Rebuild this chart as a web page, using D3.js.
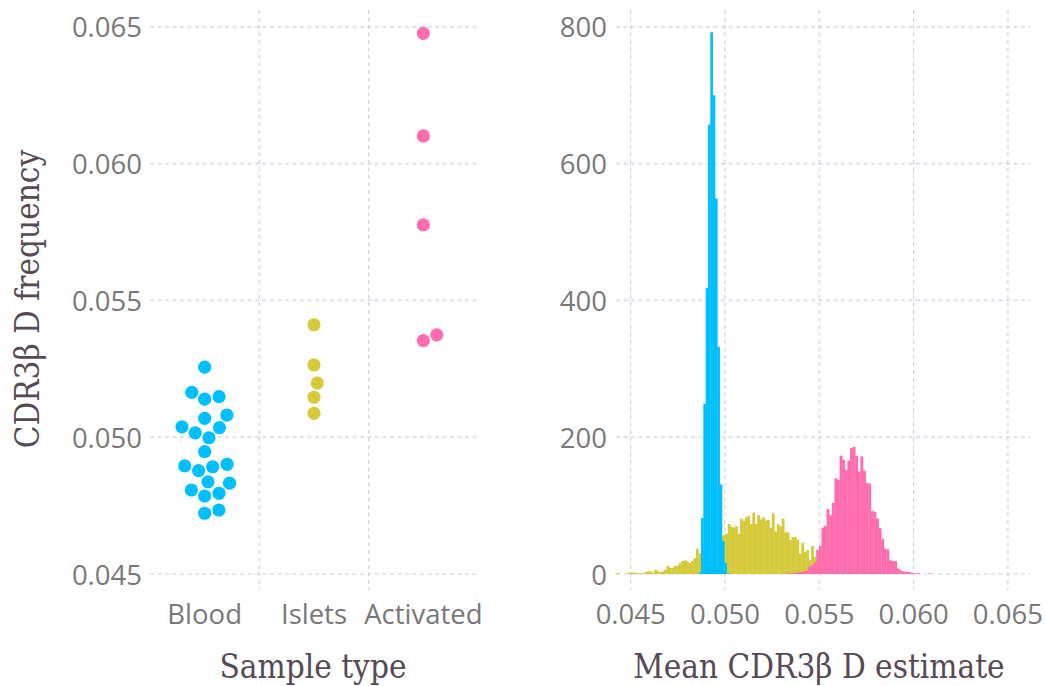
<!DOCTYPE html>
<html>
<head>
<meta charset="utf-8">
<script src="https://cdn.jsdelivr.net/npm/d3@7"></script>
<style>
  html, body { margin: 0; padding: 0; background: #ffffff; }
  svg { display: block; }
</style>
</head>
<body>
<svg id="chart" width="1046" height="686"></svg>
<script>
// ---- data -------------------------------------------------------------
const sampleTypes = ["Blood", "Islets", "Activated"];
const colors = ["#00BFFF", "#D4CA3A", "#FF6DAE"];

// Per-sample CDR3β D frequency
const bloodFreq = [0.05256, 0.05164, 0.05148, 0.05139, 0.05081, 0.05069, 0.05038, 0.05035,
                   0.05016, 0.04998, 0.04947, 0.04901, 0.04895, 0.04892, 0.04878, 0.04837,
                   0.04832, 0.04807, 0.04795, 0.04785, 0.04734, 0.04722];
const isletsFreq = [0.05411, 0.05264, 0.05198, 0.05146, 0.05087];
const activatedFreq = [0.06476, 0.06101, 0.05776, 0.05374, 0.05353];

// Posterior draws of the mean, binned: first bin start, bin width, counts
const bloodBinStart = 0.048604, bloodBinWidth = 0.0001236;
const bloodCounts = [2, 82, 249, 418, 657, 792, 700, 549, 332, 131, 48, 16, 1];

const isletsBinStart = 0.044168, isletsBinWidth = 0.00013;
const isletsCounts = [1,1,0,0,0,2,2,2,2,1,1,1,3,4,4,2,6,4,3,4,6,12,9,9,12,12,16,19,20,18,
                      16,19,23,37,30,32,35,38,40,42,45,48,50,55,57,59,73,69,68,70,59,81,78,83,85,
                      73,90,73,86,80,83,78,79,68,89,62,73,70,81,61,61,50,54,54,50,30,46,32,35,20,
                      41,25,12,8,4,2];

const activatedBinStart = 0.053181, activatedBinWidth = 0.0001379;
const activatedCounts = [1,1,1,2,2,3,3,4,5,11,13,17,35,41,68,70,95,86,104,140,138,173,167,152,
                         166,184,186,173,150,172,151,133,132,92,91,81,67,51,37,36,20,19,19,8,5,
                         4,3,3,2,1,1,1,0,0,0,1];

// Tick values
const freqTicks = [0.045, 0.050, 0.055, 0.060, 0.065];
const countTicks = [0, 200, 400, 600, 800];
const estimateTicks = [0.045, 0.050, 0.055, 0.060, 0.065];

// ---- layout -----------------------------------------------------------
const svg = d3.select("#chart");
const gridColor = "#D0D0E0";
const tickColor = "#787878";
const titleColor = "#564A55";
const tickFont = "'Open Sans', 'Noto Sans', sans-serif";
const titleFont = "'DejaVu Serif Condensed', 'DejaVu Serif', serif";
const tickSize = 27.5, titleSize = 33;

const plotTop = 26.8, plotBottom = 574;
const panelTop = 10, panelBottom = 590;

// left panel
const L = { x0: 150, x1: 478 };
const xCat = d3.scaleBand().domain(sampleTypes).range([L.x0, L.x1]);
const yFreq = d3.scaleLinear().domain([0.045, 0.065]).range([plotBottom, plotTop]);

// right panel
const R = { x0: 616, x1: 1030 };
const xEst = d3.scaleLinear().domain([0.045, 0.065]).range([630.7, 1007.9]);
const yCount = d3.scaleLinear().domain([0, 800]).range([plotBottom, plotTop]);

function dashed(sel) {
  return sel.attr("stroke", gridColor).attr("stroke-width", 1.2)
            .attr("stroke-dasharray", "4,3.5").attr("fill", "none");
}
function tickText(sel) {
  return sel.attr("font-family", tickFont).attr("font-size", tickSize)
            .attr("fill", tickColor).attr("dominant-baseline", "central");
}
function titleText(sel) {
  return sel.attr("font-family", titleFont).attr("font-size", titleSize)
            .attr("font-stretch", "condensed").attr("fill", titleColor)
            .attr("text-anchor", "middle").attr("dominant-baseline", "central");
}

// ---- left panel: grid --------------------------------------------------
const gL = svg.append("g");
gL.selectAll("line.h").data(freqTicks).join("line")
  .attr("x1", L.x0).attr("x2", L.x1)
  .attr("y1", d => yFreq(d)).attr("y2", d => yFreq(d))
  .call(dashed);
gL.selectAll("line.v").data(sampleTypes.slice(1)).join("line")
  .attr("x1", d => xCat(d)).attr("x2", d => xCat(d))
  .attr("y1", panelTop).attr("y2", panelBottom)
  .call(dashed);

// y tick labels
gL.selectAll("text.yt").data(freqTicks).join("text")
  .attr("x", 142).attr("y", d => yFreq(d)).attr("text-anchor", "end")
  .call(tickText)
  .text(d => d3.format(".3f")(d));
// x tick labels
gL.selectAll("text.xt").data(sampleTypes).join("text")
  .attr("x", d => xCat(d) + xCat.bandwidth() / 2).attr("y", 613).attr("text-anchor", "middle")
  .call(tickText)
  .text(d => d);

// beeswarm layout: place points in order of value, shifting sideways
// to the nearest free position that keeps them from colliding
function swarm(values, diameter) {
  const pts = values.map(v => ({ v, y: yFreq(v), dx: 0 }))
                    .sort((a, b) => a.v - b.v);
  const placed = [];
  for (const p of pts) {
    const cands = [0];
    for (const q of placed) {
      const dy = Math.abs(q.y - p.y);
      if (dy < diameter) {
        const h = Math.sqrt(diameter * diameter - dy * dy);
        cands.push(q.dx + h, q.dx - h);
      }
    }
    const ok = c => placed.every(q => Math.hypot(q.dx - c, q.y - p.y) >= diameter - 1e-6);
    const valid = cands.filter(ok).sort((a, b) => Math.abs(a) - Math.abs(b) || b - a);
    p.dx = valid[0];
    placed.push(p);
  }
  return pts;
}

const groups = [bloodFreq, isletsFreq, activatedFreq];
groups.forEach((vals, i) => {
  const cx = xCat(sampleTypes[i]) + xCat.bandwidth() / 2;
  gL.append("g").selectAll("circle").data(swarm(vals, 14.6)).join("circle")
    .attr("cx", d => cx + d.dx).attr("cy", d => d.y).attr("r", 6.6)
    .attr("fill", colors[i]);
});

// axis titles
svg.append("text").attr("x", 313).attr("y", 666).call(titleText).text("Sample type");
svg.append("text").attr("transform", "translate(27,299) rotate(-90)")
  .call(titleText).text("CDR3β D frequency");

// ---- right panel: grid ---------------------------------------------------
const gR = svg.append("g");
gR.selectAll("line.h").data(countTicks).join("line")
  .attr("x1", R.x0).attr("x2", R.x1)
  .attr("y1", d => yCount(d)).attr("y2", d => yCount(d))
  .call(dashed);
gR.selectAll("line.v").data(estimateTicks).join("line")
  .attr("x1", d => xEst(d)).attr("x2", d => xEst(d))
  .attr("y1", panelTop).attr("y2", panelBottom)
  .call(dashed);

gR.selectAll("text.yt").data(countTicks).join("text")
  .attr("x", 607).attr("y", d => yCount(d)).attr("text-anchor", "end")
  .call(tickText)
  .text(d => d);
gR.selectAll("text.xt").data(estimateTicks).join("text")
  .attr("x", d => xEst(d)).attr("y", 613).attr("text-anchor", "middle")
  .call(tickText)
  .text(d => d3.format(".3f")(d));

// histograms, drawn Islets first so the narrower peaks sit over it
const hists = [
  { start: isletsBinStart, width: isletsBinWidth, counts: isletsCounts, color: colors[1] },
  { start: bloodBinStart, width: bloodBinWidth, counts: bloodCounts, color: colors[0] },
  { start: activatedBinStart, width: activatedBinWidth, counts: activatedCounts, color: colors[2] }
];
hists.forEach(h => {
  const bins = h.counts.map((c, i) => ({ x0: h.start + i * h.width, x1: h.start + (i + 1) * h.width, c }));
  gR.append("g").selectAll("rect").data(bins.filter(b => b.c > 0)).join("rect")
    .attr("x", b => xEst(b.x0)).attr("width", b => xEst(b.x1) - xEst(b.x0) + 0.3)
    .attr("y", b => yCount(b.c)).attr("height", b => yCount(0) - yCount(b.c))
    .attr("fill", h.color);
});

svg.append("text").attr("x", 819).attr("y", 666).call(titleText).text("Mean CDR3β D estimate");
</script>
</body>
</html>
